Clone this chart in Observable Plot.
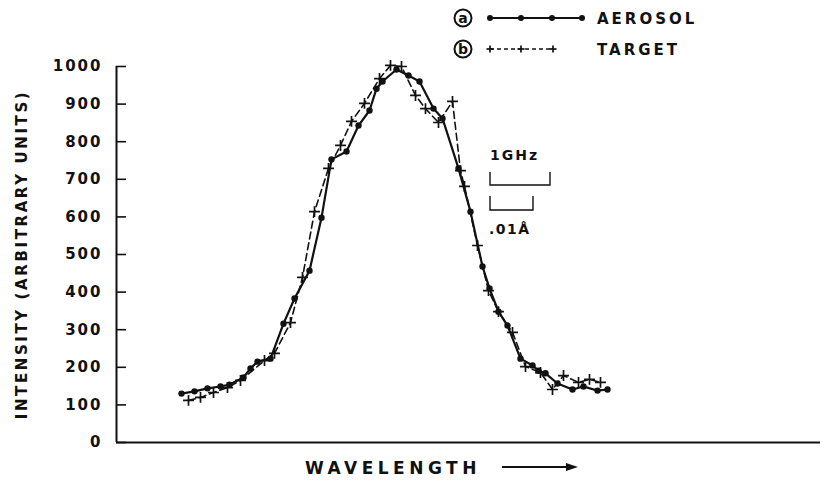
<!DOCTYPE html>
<html>
<head>
<meta charset="utf-8">
<script src="https://cdn.jsdelivr.net/npm/d3@7"></script>
<script src="https://cdn.jsdelivr.net/npm/@observablehq/plot@0.6"></script>
<style>
  html, body { margin: 0; padding: 0; background: #fff; }
  #wrap { position: relative; width: 826px; height: 483px; overflow: hidden; }
  #wrap svg.overlay { position: absolute; left: 0; top: 0; pointer-events: none; }
  .lbl { font-family: "DejaVu Sans", sans-serif; font-weight: bold; fill: #111; }
</style>
</head>
<body>
<div id="wrap"></div>
<script>
// ---- data (wavelength position in arbitrary units along the axis, intensity in arbitrary units)
const aerosolX = [65,78,91,104,113,127,134,141,154,167,178,193,205,215,230,242,253,260,266,280,292,303,317,326,342,354,366,373,382,391,404,416,422,429,441,456,467,481,491];
const aerosolY = [130,136,144,149,154,173,197,215,223,316,383,457,598,753,774,843,883,941,960,992,976,960,888,862,729,614,468,410,348,311,223,205,191,184,157,141,149,138,141];
const targetX = [72,84,97,111,124,148,158,174,186,198,212,224,235,248,263,274,285,299,309,322,336,344,348,361,372,382,396,409,424,436,447,462,473,484];
const targetY = [112,120,133,146,165,218,237,319,439,614,729,790,854,902,968,1003,1000,923,888,851,907,723,681,524,404,348,293,202,186,141,178,160,168,160];
const yTicks = [0,100,200,300,400,500,600,700,800,900,1000];
const xDomain = [0, 704];
const yLabel = "INTENSITY (ARBITRARY UNITS)";
const xLabel = "WAVELENGTH";
const legendLetters = ["a", "b"];
const legendNames = ["AEROSOL", "TARGET"];
const scaleLabels = ["1GHz", ".01Å"];

const aerosol = aerosolX.map((x, i) => ({x, y: aerosolY[i]}));
const target = targetX.map((x, i) => ({x, y: targetY[i]}));

const chart = Plot.plot({
  width: 826,
  height: 483,
  marginLeft: 116,
  marginRight: 6,
  marginTop: 66,
  marginBottom: 41,
  style: {fontFamily: "DejaVu Sans, sans-serif", color: "#111", background: "transparent"},
  x: {domain: xDomain, axis: null},
  y: {domain: [0, 1000], axis: null},
  marks: [
    Plot.ruleX([0], {stroke: "#111", strokeWidth: 2}),
    Plot.ruleY([0], {stroke: "#111", strokeWidth: 2}),
    Plot.axisY({ticks: yTicks, tickSize: 10, dx: 10, text: null, label: null, stroke: "#111", strokeWidth: 1.6}),
    Plot.axisY({ticks: yTicks, tickSize: 0, tickPadding: 14, tickFormat: d => String(d),
      label: yLabel, labelAnchor: "center", labelOffset: 100, labelArrow: false,
      fontSize: 15, fontWeight: "bold"}),
    Plot.line(target, {x: "x", y: "y", stroke: "#111", strokeWidth: 1.6, strokeDasharray: "7,4"}),
    Plot.dot(target, {x: "x", y: "y", symbol: "plus", r: 3.6, stroke: "#111", strokeWidth: 1.7}),
    Plot.line(aerosol, {x: "x", y: "y", stroke: "#111", strokeWidth: 2.2}),
    Plot.dot(aerosol, {x: "x", y: "y", r: 3.2, fill: "#111", stroke: "none"})
  ]
});
chart.style.position = "absolute";
chart.style.left = "0px";
chart.style.top = "0px";
chart.querySelectorAll("text").forEach(t => {
  t.style.letterSpacing = t.textContent === yLabel ? "2.6px" : "2px";
});
const wrap = document.getElementById("wrap");
wrap.appendChild(chart);

// ---- overlay: legend, scale bars, x label
const NS = "http://www.w3.org/2000/svg";
const ov = document.createElementNS(NS, "svg");
ov.setAttribute("class", "overlay");
ov.setAttribute("width", 826);
ov.setAttribute("height", 483);
wrap.appendChild(ov);
function el(name, attrs, text) {
  const e = document.createElementNS(NS, name);
  for (const k in attrs) e.setAttribute(k, attrs[k]);
  if (text != null) e.textContent = text;
  ov.appendChild(e);
  return e;
}
const rows = [18, 49];
rows.forEach((ry, i) => {
  el("circle", {cx: 463, cy: ry, r: 8.5, fill: "none", stroke: "#111", "stroke-width": 2});
  el("text", {x: 463, y: ry + 5, "text-anchor": "middle", class: "lbl", "font-size": 14}, legendLetters[i]);
  if (i === 0) {
    el("line", {x1: 490, x2: 582, y1: ry, y2: ry, stroke: "#111", "stroke-width": 2});
    [490, 521, 552, 582].forEach(cx => el("circle", {cx, cy: ry, r: 3, fill: "#111"}));
  } else {
    el("line", {x1: 490, x2: 553, y1: ry, y2: ry, stroke: "#111", "stroke-width": 1.5, "stroke-dasharray": "4,3"});
    [490, 521, 553].forEach(cx => {
      el("line", {x1: cx - 3.5, x2: cx + 3.5, y1: ry, y2: ry, stroke: "#111", "stroke-width": 1.7});
      el("line", {x1: cx, x2: cx, y1: ry - 3.5, y2: ry + 3.5, stroke: "#111", "stroke-width": 1.7});
    });
  }
  el("text", {x: 597, y: ry + 6, class: "lbl", "font-size": 15, style: "letter-spacing:3px"}, legendNames[i]);
});
// scale bars
el("path", {d: "M490,172V185H550V172", fill: "none", stroke: "#111", "stroke-width": 1.4});
el("text", {x: 490, y: 160, class: "lbl", "font-size": 14, style: "letter-spacing:2px"}, scaleLabels[0]);
el("path", {d: "M490,196V210H533V196", fill: "none", stroke: "#111", "stroke-width": 1.4});
el("text", {x: 489, y: 234, class: "lbl", "font-size": 14, style: "letter-spacing:1.5px"}, scaleLabels[1]);
// x label with arrow
el("text", {x: 305, y: 474, class: "lbl", "font-size": 17, style: "letter-spacing:4.5px"}, xLabel);
el("line", {x1: 502, x2: 568, y1: 467, y2: 467, stroke: "#111", "stroke-width": 2});
el("path", {d: "M566,463L578,467L566,471Z", fill: "#111"});
</script>
</body>
</html>
